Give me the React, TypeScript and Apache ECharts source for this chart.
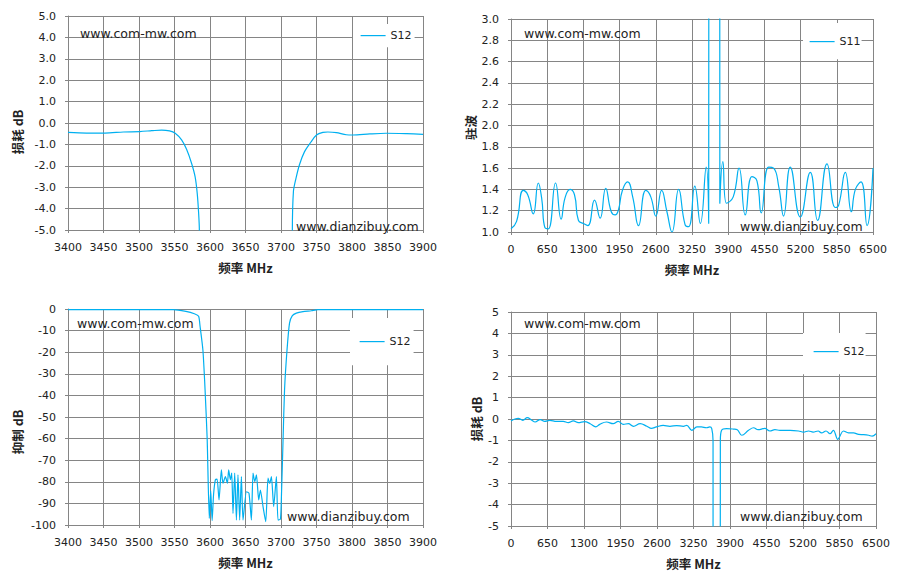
import React, { useEffect, useRef } from "react";
import * as echarts from "echarts";

// ---------- Panel 1: S12 insertion loss, 3400-3900 MHz ----------
const p1Freq = [3400, 3426, 3452, 3478, 3501, 3518, 3532, 3543, 3551, 3560, 3567, 3574, 3579, 3582, 3584, 3585, 3587, 3714, 3716, 3717.5, 3721, 3726, 3733, 3742, 3750, 3759, 3766, 3778, 3792, 3801, 3825, 3848, 3877, 3900];
const p1Loss = [-0.44, -0.47, -0.47, -0.42, -0.40, -0.36, -0.33, -0.37, -0.48, -0.79, -1.23, -1.88, -2.51, -3.29, -4.22, -5.0, -40, -40, -5.0, -3.2, -2.6, -1.95, -1.35, -0.9, -0.56, -0.44, -0.42, -0.45, -0.55, -0.56, -0.51, -0.48, -0.5, -0.53];

// ---------- Panel 2: S11 VSWR, 0-6500 MHz ----------
const p2Freq = [0, 100, 220, 300, 400, 490, 550, 610, 670, 800, 900, 970, 1060, 1140, 1210, 1300, 1380, 1500, 1600, 1700, 1800, 1870, 1930, 2000, 2095, 2185, 2290, 2420, 2510, 2600, 2705, 2800, 2890, 3010, 3125, 3190, 3300, 3400, 3505, 3550, 3572, 3728, 3750, 3804, 3870, 3990, 4095, 4206, 4326, 4416, 4493, 4625, 4715, 4810, 4894, 5014, 5194, 5374, 5505, 5674, 5823, 5883, 6003, 6111, 6183, 6285, 6393, 6500];
const p2Vswr = [1.03, 1.10, 1.39, 1.35, 1.17, 1.46, 1.32, 1.04, 1.03, 1.46, 1.12, 1.32, 1.40, 1.35, 1.11, 1.08, 1.06, 1.30, 1.13, 1.41, 1.19, 1.16, 1.21, 1.39, 1.47, 1.33, 1.06, 1.39, 1.33, 1.15, 1.39, 1.19, 1.00, 1.40, 1.07, 1.05, 1.43, 1.08, 1.61, 1.08, 30, 30, 1.27, 1.66, 1.27, 1.33, 1.60, 1.16, 1.52, 1.48, 1.18, 1.61, 1.60, 1.42, 1.15, 1.61, 1.14, 1.56, 1.11, 1.64, 1.23, 1.25, 1.56, 1.19, 1.40, 1.47, 1.06, 1.60];

// ---------- Panel 3: S12 rejection, 3400-3900 MHz ----------
const p3Freq = [3400, 3548, 3566, 3578, 3584, 3586, 3590, 3593, 3596, 3599, 3601, 3603, 3605, 3607.6, 3610, 3612.7, 3616, 3618.3, 3621.7, 3624.5, 3626.3, 3628.7, 3630.6, 3632.4, 3634.8, 3637.2, 3639.4, 3641.8, 3644.2, 3646.5, 3651.3, 3654.9, 3658.3, 3660.6, 3663, 3665.4, 3668.6, 3671, 3674.7, 3678.5, 3681.7, 3684.1, 3686.5, 3689.7, 3693.5, 3695.8, 3699.2, 3700.6, 3702.9, 3705, 3708.5, 3712, 3716, 3721.6, 3731, 3742.7, 3752, 3900];
const p3Rej = [-0.3, -0.3, -1.1, -2.2, -3.4, -8, -19, -37, -60, -97, -84, -98, -86, -79, -78.8, -88.4, -74.5, -80.7, -77.6, -80.7, -74.5, -79, -76, -94.6, -76, -97.7, -76.8, -97.7, -77.6, -97.7, -84.6, -85.3, -97.7, -76, -79.9, -76.8, -88.4, -83.8, -91.5, -98.5, -78.3, -80.7, -77.6, -91.5, -77.6, -97.7, -97.3, -86.9, -60.6, -37.4, -18.9, -6.5, -3.1, -1.9, -1.2, -0.8, -0.3, -0.3];

// ---------- Panel 4: S12 insertion loss, 0-6500 MHz ----------
const p4Freq = [0, 70, 130, 210, 290, 370, 430, 520, 600, 690, 810, 930, 1020, 1110, 1200, 1310, 1410, 1510, 1580, 1700, 1820, 1910, 2000, 2090, 2180, 2300, 2420, 2500, 2590, 2710, 2830, 2950, 3070, 3130, 3220, 3310, 3390, 3480, 3540, 3575, 3598, 3602, 3718, 3728, 3750, 3840, 3960, 4030, 4110, 4230, 4320, 4400, 4520, 4610, 4700, 4790, 4970, 5120, 5210, 5300, 5380, 5470, 5530, 5610, 5680, 5740, 5820, 5850, 5920, 6010, 6100, 6190, 6280, 6370, 6430, 6500];
const p4Loss = [-0.09, 0.0, 0.03, -0.06, 0.06, -0.06, -0.14, -0.03, -0.11, -0.06, -0.11, -0.11, -0.17, -0.09, -0.17, -0.12, -0.22, -0.37, -0.25, -0.14, -0.22, -0.11, -0.25, -0.22, -0.34, -0.22, -0.34, -0.44, -0.37, -0.3, -0.34, -0.31, -0.34, -0.3, -0.53, -0.37, -0.37, -0.41, -0.37, -0.45, -1.0, -60, -60, -1.0, -0.53, -0.45, -0.47, -0.5, -0.76, -0.53, -0.41, -0.5, -0.44, -0.56, -0.5, -0.53, -0.53, -0.56, -0.61, -0.56, -0.61, -0.56, -0.65, -0.56, -0.69, -0.53, -0.95, -0.84, -0.56, -0.65, -0.65, -0.72, -0.73, -0.76, -0.8, -0.69];

const xTitle = "频率 MHz";
const watermarkTop = "www.com-mw.com";
const watermarkBottom = "www.dianzibuy.com";

const FONT = "'DejaVu Sans', Verdana, sans-serif";
const CJK = "'Noto Sans CJK SC', sans-serif";
const GRID = "#858585";
const LINE = "#00B0F0";
const TEXT = "#222222";

const zip = (xs: number[], ys: number[]) => xs.map((x, i) => [x, ys[i]]);

const panels = [
  {
    grid: { left: 68, top: 16, width: 355, height: 214 },
    x: { min: 3400, max: 3900, interval: 50 },
    y: { min: -5, max: 5, interval: 1, dec: 1 },
    yName: "损耗 dB", yShift: 9, yGap: 44,
    name: "S12", data: zip(p1Freq, p1Loss), smooth: 0.3,
    legend: { left: 353, top: 24, padding: [6, 3, 6, 7] },
    wm: [[80, 33], [296, 226]],
  },
  {
    grid: { left: 511, top: 19, width: 362, height: 213 },
    x: { min: 0, max: 6500, interval: 650 },
    y: { min: 1, max: 3, interval: 0.2, dec: 1 },
    yName: "驻波", yShift: 2, yGap: 34,
    name: "S11", data: zip(p2Freq, p2Vswr), smooth: 0.5,
    legend: { left: 803, top: 23, padding: [13, 1, 12, 6] },
    wm: [[524, 33], [740, 226]],
  },
  {
    grid: { left: 68, top: 309, width: 355, height: 216 },
    x: { min: 3400, max: 3900, interval: 50 },
    y: { min: -100, max: 0, interval: 10, dec: 0 },
    yName: "抑制 dB", yShift: 15, yGap: 44.5,
    name: "S12", data: zip(p3Freq, p3Rej), smooth: 0.2,
    legend: { left: 350, top: 318, padding: [18, 3, 18, 9] },
    wm: [[77, 323], [287, 516]],
  },
  {
    grid: { left: 511, top: 312, width: 365, height: 214 },
    x: { min: 0, max: 6500, interval: 650 },
    y: { min: -5, max: 5, interval: 1, dec: 0 },
    yName: "损耗 dB", yShift: 0, yGap: 28,
    name: "S12", data: zip(p4Freq, p4Loss), smooth: 0.4,
    legend: { left: 803, top: 333, padding: [13, 1, 17, 10] },
    wm: [[524, 323], [740, 516]],
  },
];

export default function App() {
  const ref = useRef<HTMLDivElement>(null);
  useEffect(() => {
    if (!ref.current) return;
    const chart = echarts.init(ref.current, undefined, { renderer: "svg" });
    const axisCommon = {
      type: "value",
      axisLine: { show: true, onZero: false, lineStyle: { color: GRID, width: 1 } },
      axisTick: { show: true, length: 3, lineStyle: { color: GRID } },
      splitLine: { show: true, lineStyle: { color: GRID, width: 1 } },
    };
    const option: any = {
      animation: false,
      backgroundColor: "#ffffff",
      grid: panels.map((p) => ({ ...p.grid, containLabel: false })),
      xAxis: panels.map((p, i) => ({
        ...axisCommon,
        gridIndex: i,
        min: p.x.min,
        max: p.x.max,
        interval: p.x.interval,
        axisLabel: {
          fontFamily: FONT, fontSize: 11, color: TEXT, margin: 12,
          formatter: (v: number) => String(v),
        },
        name: xTitle,
        nameLocation: "middle",
        nameGap: 31,
        nameTextStyle: { fontFamily: CJK, fontSize: 12.5, fontWeight: "bold", color: TEXT },
      })),
      yAxis: panels.map((p, i) => ({
        ...axisCommon,
        gridIndex: i,
        min: p.y.min,
        max: p.y.max,
        interval: p.y.interval,
        axisLabel: {
          fontFamily: FONT, fontSize: 11, color: TEXT, margin: 12,
          formatter: (v: number) => v.toFixed(p.y.dec),
        },
        name: p.yName,
        nameLocation: "middle",
        nameGap: p.yGap,
        nameTextStyle: {
          fontFamily: CJK, fontSize: 12.5, fontWeight: "bold", color: TEXT,
          padding: [0, p.yShift * 2, 0, 0],
        },
      })),
      legend: panels.map((p) => ({
        data: [p.name],
        left: p.legend.left,
        top: p.legend.top,
        padding: p.legend.padding,
        backgroundColor: "#ffffff",
        itemWidth: 25,
        itemHeight: 14,
        selectedMode: false,
        itemStyle: { color: "rgba(0,0,0,0)", borderColor: "rgba(0,0,0,0)", borderWidth: 0, opacity: 0 },
        lineStyle: { color: LINE, width: 1.2 },
        textStyle: { fontFamily: FONT, fontSize: 11, color: TEXT },
      })),
      series: panels.map((p, i) => ({
        type: "line",
        name: p.name,
        xAxisIndex: i,
        yAxisIndex: i,
        data: p.data,
        symbol: "none",
        showSymbol: false,
        smooth: p.smooth,
        clip: true,
        lineStyle: { color: LINE, width: 1.2 },
        itemStyle: { color: LINE },
      })),
      graphic: panels.flatMap((p) => [
        {
          type: "text", x: p.wm[0][0], y: p.wm[0][1], z: 100,
          style: { text: watermarkTop, fill: TEXT, font: `12.5px ${FONT}`, align: "left", verticalAlign: "middle" },
        },
        {
          type: "text", x: p.wm[1][0], y: p.wm[1][1], z: 100,
          style: { text: watermarkBottom, fill: TEXT, font: `12.5px ${FONT}`, align: "left", verticalAlign: "middle" },
        },
      ]),
    };
    chart.setOption(option);
    return () => chart.dispose();
  }, []);
  return (
    <div
      ref={ref}
      style={{ position: "fixed", left: 0, top: 0, width: 900, height: 580, background: "#fff" }}
    />
  );
}
